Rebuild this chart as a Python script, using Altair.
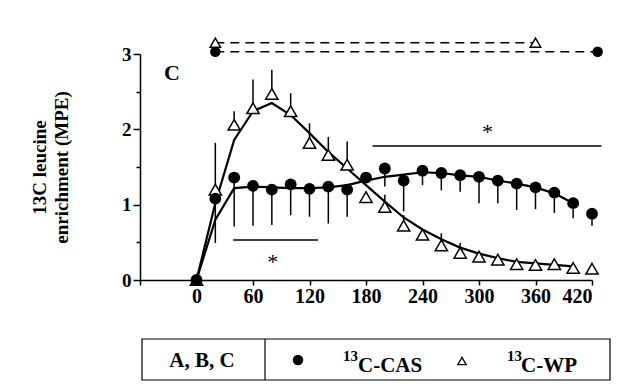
import altair as alt
import pandas as pd

FONT = "Liberation Serif"

# ---- data ----
times = [0, 20, 40, 60, 80, 100, 120, 140, 160, 180, 200, 220, 240, 260, 280, 300, 320, 340, 360, 380, 400, 420]
cas = [0, 1.08, 1.36, 1.25, 1.20, 1.27, 1.21, 1.24, 1.20, 1.36, 1.48, 1.32, 1.45, 1.42, 1.39, 1.37, 1.32, 1.28, 1.23, 1.16, 1.02, 0.88]
cas_lower = [0, 0.49, 0.71, 0.72, 0.73, 0.86, 0.84, 0.75, 0.84, 1.36, 1.24, 0.91, 1.26, 1.19, 1.17, 1.02, 1.02, 0.93, 0.94, 0.89, 0.82, 0.72]
wp = [0, 1.20, 2.06, 2.28, 2.47, 2.24, 1.82, 1.66, 1.53, 1.10, 0.97, 0.72, 0.60, 0.46, 0.36, 0.31, 0.27, 0.21, 0.20, 0.21, 0.16, 0.15]
wp_upper = [0, 1.82, 2.24, 2.66, 2.79, 2.48, 2.08, 1.90, 1.84, 1.10, 1.13, 0.86, 0.60, 0.62, 0.49, 0.31, 0.27, 0.21, 0.20, 0.21, 0.16, 0.15]

fit_times = [0, 20, 40, 60, 80, 100, 120, 140, 160, 180, 200, 220, 240, 260, 280, 300, 320, 340, 360, 380, 400]
cas_fit = [0, 0.80, 1.22, 1.24, 1.23, 1.22, 1.22, 1.23, 1.26, 1.32, 1.37, 1.40, 1.43, 1.42, 1.39, 1.37, 1.32, 1.28, 1.23, 1.15, 1.02]
wp_fit = [0, 1.02, 1.86, 2.24, 2.35, 2.19, 1.95, 1.70, 1.48, 1.26, 1.04, 0.83, 0.67, 0.54, 0.43, 0.35, 0.29, 0.24, 0.22, 0.20, 0.18]

# plateau (dashed) lines at the top
dash_cas_t = [20, 426]
dash_cas_y = [3.03, 3.03]
dash_wp_t = [20, 360]
dash_wp_y = [3.15, 3.15]

# significance bars and stars
sig_start = [39, 187]
sig_end = [129, 430]
sig_y = [0.53, 1.78]
star_t = [81, 309]
star_y = [0.30, 2.03]

x_ticks = [-60, 0, 60, 120, 180, 240, 300, 360, 420]
y_ticks = [0, 0.5, 1, 1.5, 2, 2.5, 3]

# ---- tables ----
pts = pd.DataFrame({"t": times, "cas": cas, "cas_lo": cas_lower, "wp": wp, "wp_hi": wp_upper})
fit = pd.DataFrame({"t": fit_times, "cas": cas_fit, "wp": wp_fit})
dcas = pd.DataFrame({"t": dash_cas_t, "y": dash_cas_y})
dwp = pd.DataFrame({"t": dash_wp_t, "y": dash_wp_y})
sig = pd.DataFrame({"t": sig_start, "t2": sig_end, "y": sig_y})
stars = pd.DataFrame({"t": star_t, "y": star_y})
one = pd.DataFrame({"k": [0]})

xs = alt.Scale(domain=[-60, 420], nice=False, zero=False)
ys = alt.Scale(domain=[0, 3], nice=False, zero=False)

X = lambda f: alt.X(f, type="quantitative", scale=xs,
                    axis=alt.Axis(values=x_ticks, title=None, grid=False,
                                  labelExpr="datum.value < 0 ? '' : datum.label",
                                  labelFont=FONT, labelFontWeight="bold", labelFontSize=20,
                                  labelColor="black", labelPadding=1,
                                  tickSize=5, tickWidth=1.5, tickColor="black",
                                  domainColor="black", domainWidth=1.5))
Y = lambda f: alt.Y(f, type="quantitative", scale=ys,
                    axis=alt.Axis(values=y_ticks, title=["13C leucine", "enrichment (MPE)"], grid=False,
                                  labelExpr="datum.value % 1 == 0 ? format(datum.value, 'd') : ''",
                                  labelFont=FONT, labelFontWeight="bold", labelFontSize=19,
                                  labelColor="black", labelPadding=2,
                                  tickSize={"condition": {"test": "datum.value % 1 == 0", "value": 7}, "value": 4},
                                  tickWidth=1.5, tickColor="black",
                                  domainColor="black", domainWidth=1.5,
                                  titleFont=FONT, titleFontWeight="bold", titleFontSize=19,
                                  titleColor="black", titlePadding=50, titleLineHeight=22))

base_fit = alt.Chart(fit)
l_wpfit = base_fit.mark_line(color="black", strokeWidth=2.2).encode(x=X("t"), y=Y("wp"))
l_casfit = base_fit.mark_line(color="black", strokeWidth=2.2).encode(x=X("t"), y=Y("cas"))

base = alt.Chart(pts)
e_cas = base.mark_rule(color="black", strokeWidth=1.5).encode(x=X("t"), y=Y("cas"), y2="cas_lo")
e_wp = base.mark_rule(color="black", strokeWidth=1.5).encode(x=X("t"), y=Y("wp"), y2="wp_hi")
p_wp = base.mark_point(shape="triangle-up", filled=True, fill="white", stroke="black",
                       strokeWidth=1.5, size=150, opacity=1).encode(x=X("t"), y=Y("wp"))
p_cas = base.mark_point(shape="circle", filled=True, color="black", size=140, opacity=1).encode(x=X("t"), y=Y("cas"))

d_cas = alt.Chart(dcas).mark_line(color="black", strokeWidth=1.5, strokeDash=[9, 6]).encode(x=X("t"), y=Y("y"))
d_wp = alt.Chart(dwp).mark_line(color="black", strokeWidth=1.5, strokeDash=[9, 6]).encode(x=X("t"), y=Y("y"))
d_cas_pt = alt.Chart(dcas).mark_point(shape="circle", filled=True, color="black", size=110, opacity=1).encode(x=X("t"), y=Y("y"))
d_wp_pt = alt.Chart(dwp).mark_point(shape="triangle-up", filled=True, fill="white", stroke="black",
                                    strokeWidth=1.5, size=110, opacity=1).encode(x=X("t"), y=Y("y"))

s_lines = alt.Chart(sig).mark_rule(color="black", strokeWidth=1.5).encode(x=X("t"), x2="t2", y=Y("y"))
s_stars = alt.Chart(stars).mark_text(text="*", font=FONT, fontSize=22, color="black",
                                     baseline="middle", dy=5).encode(x=X("t"), y=Y("y"))

c_label = alt.Chart(one).mark_text(text="C", font=FONT, fontWeight="bold", fontSize=22, color="black",
                                   baseline="middle", align="center").encode(x=alt.value(32), y=alt.value(19))

# legend box below the plot
box = alt.Chart(one).mark_rect(fill="white", stroke="black", strokeWidth=1.2).encode(
    x=alt.value(2), x2=alt.value(470), y=alt.value(285), y2=alt.value(326))
divider = alt.Chart(one).mark_rule(color="black", strokeWidth=1.2).encode(
    x=alt.value(125), y=alt.value(285), y2=alt.value(326))
lg_abc = alt.Chart(one).mark_text(text="A, B, C", font=FONT, fontWeight="bold", fontSize=21, color="black",
                                  align="center", baseline="middle").encode(x=alt.value(62), y=alt.value(307))
lg_dot = alt.Chart(one).mark_point(shape="circle", filled=True, color="black", size=110, opacity=1).encode(
    x=alt.value(158), y=alt.value(306))
lg_13a = alt.Chart(one).mark_text(text="13", font=FONT, fontWeight="bold", fontSize=15, color="black",
                                  align="left", baseline="middle").encode(x=alt.value(203), y=alt.value(302))
lg_cas = alt.Chart(one).mark_text(text="C-CAS", font=FONT, fontWeight="bold", fontSize=21, color="black",
                                  align="left", baseline="middle").encode(x=alt.value(218), y=alt.value(312))
lg_tri = alt.Chart(one).mark_point(shape="triangle-up", filled=True, fill="white", stroke="black",
                                   strokeWidth=1.3, size=70, opacity=1).encode(x=alt.value(322), y=alt.value(307))
lg_13b = alt.Chart(one).mark_text(text="13", font=FONT, fontWeight="bold", fontSize=15, color="black",
                                  align="left", baseline="middle").encode(x=alt.value(367), y=alt.value(302))
lg_wp = alt.Chart(one).mark_text(text="C-WP", font=FONT, fontWeight="bold", fontSize=21, color="black",
                                 align="left", baseline="middle").encode(x=alt.value(381), y=alt.value(312))

chart = alt.layer(
    l_wpfit, l_casfit, e_cas, e_wp, p_wp, p_cas,
    d_cas, d_wp, d_cas_pt, d_wp_pt, s_lines, s_stars, c_label,
    box, divider, lg_abc, lg_dot, lg_13a, lg_cas, lg_tri, lg_13b, lg_wp
).properties(
    width=452, height=226,
    autosize=alt.AutoSizeParams(type="none"),
    padding={"left": 132, "top": 46, "right": 40, "bottom": 105},
    background="white",
).configure_view(stroke=None)

chart.save("out.html", embed_options={"renderer": "svg", "actions": False})
